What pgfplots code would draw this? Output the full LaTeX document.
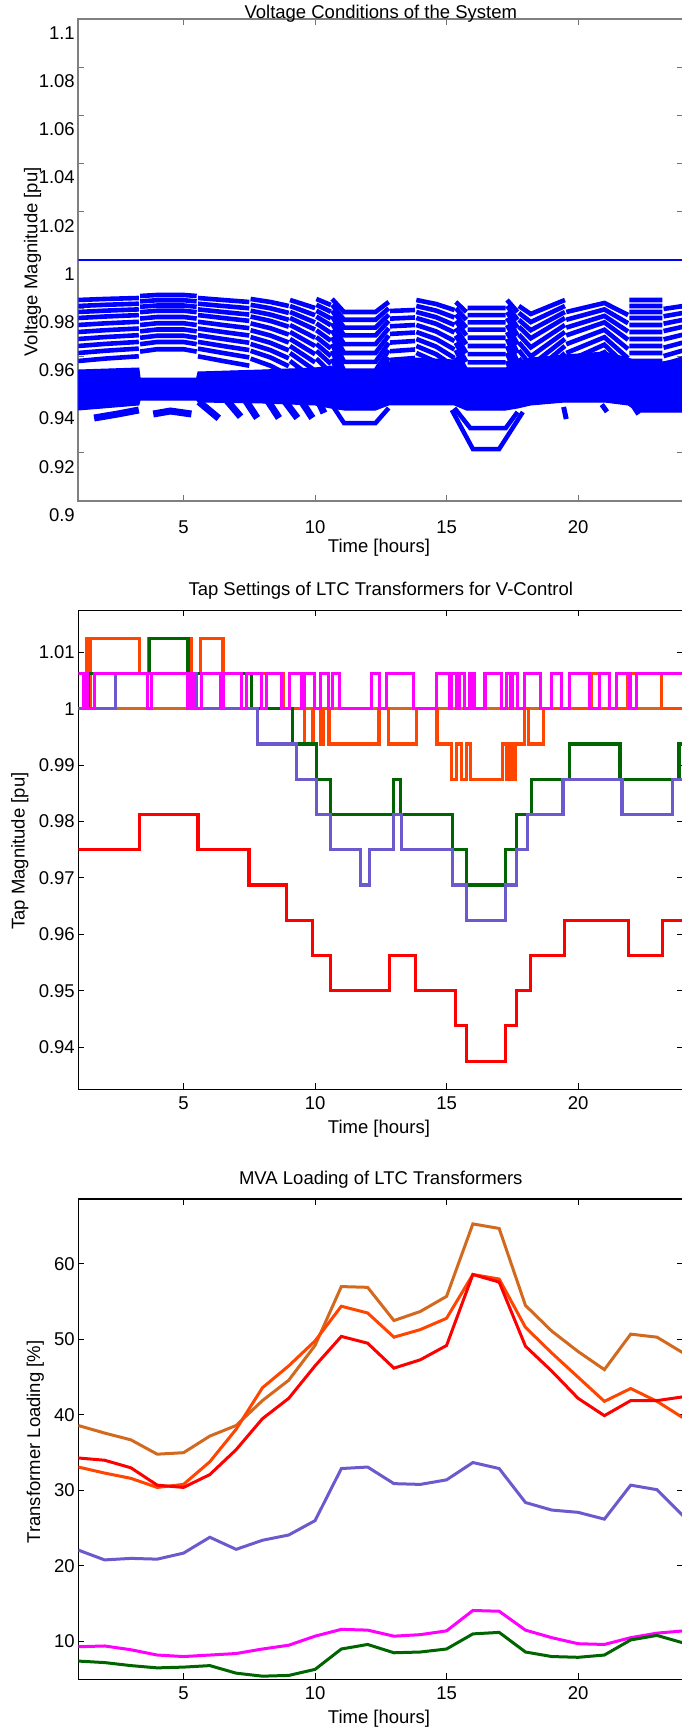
\documentclass[border=0pt]{standalone}
\usepackage{fontspec}
\setmainfont{Liberation Sans}
\usepackage{pgfplots}
\pgfplotsset{compat=1.18}
\usepackage{pgfplotstable}

\definecolor{mchoc}{RGB}{210,105,30}
\definecolor{morange}{RGB}{255,69,0}
\definecolor{mslate}{RGB}{106,90,205}
\definecolor{mgreen}{RGB}{0,100,0}
\definecolor{mblue}{RGB}{0,0,255}
\definecolor{mred}{RGB}{255,0,0}
\definecolor{mmag}{RGB}{255,0,255}

\pgfplotstableread{
t L1 L2 L3 L4 L5 L6 L7 L8 L9 L10
1 0.98340 0.98091 0.97842 0.97593 0.97303 0.97012 0.96722 0.96431 0.96141 0.95809
2 0.98382 0.98139 0.97896 0.97653 0.97369 0.97085 0.96801 0.96516 0.96232 0.95907
3.3 0.98423 0.98186 0.97950 0.97713 0.97436 0.97157 0.96880 0.96601 0.96324 0.96004
3.32 nan nan nan nan nan nan nan nan nan nan
3.35 0.98506 0.98282 0.98058 0.97834 0.97569 0.97302 0.97038 0.96771 0.96506 0.96199
4 0.98548 0.98330 0.98112 0.97894 0.97635 0.97375 0.97117 0.96857 0.96598 0.96297
5 0.98548 0.98330 0.98112 0.97894 0.97635 0.97375 0.97117 0.96857 0.96598 0.96297
5.5 0.98506 0.98282 0.98058 0.97834 0.97569 0.97302 0.97038 0.96771 0.96506 0.96199
5.52 nan nan nan nan nan nan nan nan nan nan
5.55 0.98423 0.98186 0.97950 0.97713 0.97436 0.97157 0.96880 0.96601 0.96324 0.96004
6.5 0.98340 0.98091 0.97842 0.97593 0.97303 0.97012 0.96722 0.96431 0.96141 0.95809
7.5 0.98257 0.97996 0.97734 0.97473 0.97170 0.96867 0.96564 0.96261 0.95958 0.95614
7.52 nan nan nan nan nan nan nan nan nan nan
7.55 0.98382 0.98139 0.97896 0.97653 0.97369 0.97085 0.96801 0.96516 0.96232 0.95907
8.3 0.98257 0.97996 0.97734 0.97473 0.97170 0.96867 0.96564 0.96261 0.95958 0.95614
9 0.98091 0.97805 0.97518 0.97232 0.96905 0.96576 0.96249 0.95920 0.95593 0.95224
9.02 nan nan nan nan nan nan nan nan nan nan
9.05 0.98340 0.98091 0.97842 0.97593 0.97303 0.97012 0.96722 0.96431 0.96141 0.95809
10 0.98008 0.97709 0.97410 0.97111 0.96772 0.96431 0.96091 0.95750 0.95411 0.95029
10.02 nan nan nan nan nan nan nan nan nan nan
10.05 0.98382 0.98139 0.97896 0.97653 0.97369 0.97085 0.96801 0.96516 0.96232 0.95907
10.6 0.98133 0.97853 0.97572 0.97292 0.96971 0.96649 0.96328 0.96006 0.95685 0.95322
10.62 nan nan nan nan nan nan nan nan nan nan
10.65 0.98382 0.98139 0.97896 0.97653 0.97369 0.97085 0.96801 0.96516 0.96232 0.95907
11.1 0.97842 0.97519 0.97194 0.96871 0.96506 0.96141 0.95775 0.95410 0.95045 0.94639
12.3 0.97842 0.97519 0.97194 0.96871 0.96506 0.96141 0.95775 0.95410 0.95045 0.94639
12.8 0.98257 0.97996 0.97734 0.97473 0.97170 0.96867 0.96564 0.96261 0.95958 0.95614
12.82 nan nan nan nan nan nan nan nan nan nan
12.85 0.97884 0.97566 0.97248 0.96931 0.96573 0.96213 0.95854 0.95495 0.95137 0.94737
13.8 0.97925 0.97614 0.97302 0.96991 0.96639 0.96286 0.95933 0.95580 0.95228 0.94834
13.82 nan nan nan nan nan nan nan nan nan nan
13.85 0.98340 0.98091 0.97842 0.97593 0.97303 0.97012 0.96722 0.96431 0.96141 0.95809
14.6 0.98174 0.97900 0.97626 0.97352 0.97037 0.96722 0.96406 0.96091 0.95776 0.95419
15.3 0.97925 0.97614 0.97302 0.96991 0.96639 0.96286 0.95933 0.95580 0.95228 0.94834
15.32 nan nan nan nan nan nan nan nan nan nan
15.35 0.98257 0.97996 0.97734 0.97473 0.97170 0.96867 0.96564 0.96261 0.95958 0.95614
15.75 0.97842 0.97519 0.97194 0.96871 0.96506 0.96141 0.95775 0.95410 0.95045 0.94639
15.77 nan nan nan nan nan nan nan nan nan nan
15.8 0.98008 0.97709 0.97410 0.97111 0.96772 0.96431 0.96091 0.95750 0.95411 0.95029
17.25 0.98008 0.97709 0.97410 0.97111 0.96772 0.96431 0.96091 0.95750 0.95411 0.95029
17.27 nan nan nan nan nan nan nan nan nan nan
17.3 0.98340 0.98091 0.97842 0.97593 0.97303 0.97012 0.96722 0.96431 0.96141 0.95809
17.7 0.97842 0.97519 0.97194 0.96871 0.96506 0.96141 0.95775 0.95410 0.95045 0.94639
17.72 nan nan nan nan nan nan nan nan nan nan
17.75 0.98091 0.97805 0.97518 0.97232 0.96905 0.96576 0.96249 0.95920 0.95593 0.95224
18.2 0.97759 0.97423 0.97086 0.96750 0.96373 0.95996 0.95617 0.95240 0.94863 0.94444
19.5 0.98340 0.98091 0.97842 0.97593 0.97303 0.97012 0.96722 0.96431 0.96141 0.95809
19.52 nan nan nan nan nan nan nan nan nan nan
19.55 0.97842 0.97519 0.97194 0.96871 0.96506 0.96141 0.95775 0.95410 0.95045 0.94639
21 0.98216 0.97948 0.97680 0.97412 0.97104 0.96794 0.96485 0.96176 0.95867 0.95517
21.9 0.97718 0.97376 0.97032 0.96690 0.96307 0.95923 0.95539 0.95155 0.94771 0.94347
21.92 nan nan nan nan nan nan nan nan nan nan
21.95 0.98340 0.98091 0.97842 0.97593 0.97303 0.97012 0.96722 0.96431 0.96141 0.95809
23.2 0.98340 0.98091 0.97842 0.97593 0.97303 0.97012 0.96722 0.96431 0.96141 0.95809
23.22 nan nan nan nan nan nan nan nan nan nan
23.25 0.97967 0.97662 0.97356 0.97051 0.96705 0.96359 0.96012 0.95665 0.95319 0.94932
24 0.98091 0.97805 0.97518 0.97232 0.96905 0.96576 0.96249 0.95920 0.95593 0.95224
}\voltlines

\pgfplotstableread{
h choc orng red slate mag grn
1 38.6 33.1 34.3 22.1 9.3 7.4
2 37.6 32.3 34.0 20.8 9.4 7.2
3 36.7 31.6 33.0 21.0 8.9 6.8
4 34.8 30.4 30.7 20.9 8.2 6.5
5 35.0 30.8 30.4 21.7 8.0 6.6
6 37.2 33.8 32.1 23.8 8.2 6.8
7 38.6 38.1 35.4 22.2 8.4 5.8
8 41.9 43.6 39.5 23.4 9.0 5.4
9 44.6 46.5 42.2 24.1 9.5 5.5
10 49.2 49.8 46.5 26.0 10.7 6.3
11 57.0 54.4 50.4 32.9 11.6 9.0
12 56.9 53.5 49.5 33.1 11.5 9.6
13 52.5 50.3 46.2 30.9 10.7 8.5
14 53.7 51.3 47.3 30.8 10.9 8.6
15 55.7 52.8 49.2 31.4 11.4 9.0
16 65.3 58.6 58.6 33.7 14.1 11.0
17 64.7 58.0 57.6 32.9 14.0 11.2
18 54.5 51.6 49.1 28.4 11.5 8.6
19 51.1 48.2 45.8 27.4 10.5 8.0
20 48.4 45.0 42.2 27.1 9.7 7.9
21 46.0 41.8 39.9 26.2 9.6 8.2
22 50.7 43.5 41.9 30.7 10.5 10.2
23 50.3 41.8 41.9 30.1 11.1 10.8
24 48.2 39.6 42.4 26.6 11.4 9.8
}\loading

\pgfplotsset{
  base/.style={
    scale only axis, width=605bp, xmin=1, xmax=24,
    xtick={5,10,15,20}, xticklabels={5,10,15,20},
    tick align=inside, major tick length=6bp,
    tick label style={font=\fontsize{18.5bp}{22bp}\selectfont, text=black},
    every axis title/.style={font=\fontsize{18.5bp}{22bp}\selectfont, anchor=center},
    every axis x label/.style={font=\fontsize{18.5bp}{22bp}\selectfont, anchor=center},
    every axis y label/.style={font=\fontsize{18.5bp}{22bp}\selectfont, anchor=center, rotate=90},
    axis line style={line width=1.3bp},
    every tick/.style={line width=1bp},
    unbounded coords=jump,
    clip=true,
  }
}

\begin{document}
\begin{tikzpicture}
\useasboundingbox (0,0) rectangle (682bp,1731bp);

% ---------------- Plot 1 ----------------
\begin{axis}[base, at={(78.3bp,1230bp)}, anchor=south west, height=482bp,
  ymin=0.9, ymax=1.1,
  ytick={0.9,0.92,0.94,0.96,0.98,1.0,1.02,1.04,1.06,1.08,1.1},
  yticklabels={0.9,0.92,0.94,0.96,0.98,1,1.02,1.04,1.06,1.08,1.1},
  yticklabel style={yshift=-14bp},
  xticklabel style={yshift=-16bp},
  axis line style={line width=1.6bp, draw=black!50},
  every tick/.style={line width=1bp, draw=black!55},
  title={Voltage Conditions of the System},
  title style={at={(axis description cs:0.5,1)}, yshift=5bp},
  xlabel={Time [hours]},
  xlabel style={at={(axis description cs:0.497,-0.0975)}},
  ylabel={Voltage Magnitude [pu]},
  ylabel style={at={(axis description cs:-0.0755,0.496)}},
]
\addplot[mblue, line width=2.5bp] coordinates {(1,1.0) (24,1.0)};
% dense lower band
\addplot[fill=mblue, draw=mblue, line width=1bp] coordinates {
(1,0.95435) (3.3,0.95518) (3.35,0.95103) (5.5,0.95103) (5.55,0.95352) (8,0.95435)
(10,0.95518) (10.6,0.95601) (11.1,0.95352) (12.3,0.95352) (12.8,0.95767) (13.8,0.95933)
(15.3,0.95850) (15.75,0.95518) (17.25,0.95518) (17.7,0.95767) (18.2,0.95933) (19.5,0.96058)
(21,0.96182) (21.9,0.95933) (22.3,0.95767) (23.2,0.95767) (24,0.95933)
(24,0.93692) (22.3,0.93692) (21.9,0.93983) (21,0.94107) (19.5,0.94107) (18.2,0.93983)
(17.7,0.93858) (17.25,0.93775) (15.75,0.93775) (15.3,0.93983) (12.8,0.93983) (12.3,0.93775)
(11.1,0.93775) (10.6,0.93858) (10,0.93983) (8,0.94066) (5.55,0.94107) (5.5,0.94190)
(3.35,0.94190) (3.3,0.93983) (1,0.93775)} -- cycle;
% upper individual lines
\addplot[mblue, line width=4.6bp] table[x=t, y=L1] {\voltlines};
\addplot[mblue, line width=4.6bp] table[x=t, y=L2] {\voltlines};
\addplot[mblue, line width=4.6bp] table[x=t, y=L3] {\voltlines};
\addplot[mblue, line width=4.6bp] table[x=t, y=L4] {\voltlines};
\addplot[mblue, line width=4.6bp] table[x=t, y=L5] {\voltlines};
\addplot[mblue, line width=4.6bp] table[x=t, y=L6] {\voltlines};
\addplot[mblue, line width=4.6bp] table[x=t, y=L7] {\voltlines};
\addplot[mblue, line width=4.6bp] table[x=t, y=L8] {\voltlines};
\addplot[mblue, line width=4.6bp] table[x=t, y=L9] {\voltlines};
\addplot[mblue, line width=4.6bp] table[x=t, y=L10] {\voltlines};
% lower separate strokes
\addplot[mblue, line width=7bp] coordinates {(1.6,0.93443) (2.5,0.93609) (3.3,0.93775)};
\addplot[mblue, line width=7bp] coordinates {(3.85,0.93609) (4.5,0.93733) (5.3,0.93609)};
\addplot[mblue, line width=7bp] coordinates {
(5.58,0.94120) (6.34,0.93431) (6.4,nan)
(6.47,0.94398) (7.17,0.93497) (7.2,nan)
(7.3,0.94273) (7.8,0.93443) (7.9,nan)
(8.06,0.94398) (8.63,0.93443) (8.7,nan)
(8.76,0.94273) (9.33,0.93443) (9.36,nan)
(9.4,0.94273) (9.9,0.93443) (9.95,nan)
(10.02,0.944) (10.34,0.9365)};
\addplot[mblue, line width=4.5bp] coordinates {(10.65,0.93983) (11.1,0.93235) (12.3,0.93235) (12.8,0.93858)};
\addplot[mblue, line width=4.5bp] coordinates {(15.2,0.93775) (16,0.92157) (17,0.92157) (17.9,0.93692)};
\addplot[mblue, line width=4.5bp] coordinates {(15.3,0.93858) (15.9,0.93028) (17.25,0.93028) (17.7,0.93692)};
\addplot[mblue, line width=5bp] coordinates {
(19.45,0.9390) (19.55,0.9340) (19.6,nan)
(20.9,0.9400) (21.1,0.9370) (21.2,nan)
(22.0,0.9410) (22.3,0.9360)};
\end{axis}

% ---------------- Plot 2 ----------------
\begin{axis}[base, at={(78.3bp,641.7bp)}, anchor=south west, height=479.1bp,
  ymin=0.9325, ymax=1.0175,
  ytick={0.94,0.95,0.96,0.97,0.98,0.99,1.0,1.01},
  yticklabels={0.94,0.95,0.96,0.97,0.98,0.99,1,1.01},
  xticklabel style={yshift=-4bp},
  title={Tap Settings of LTC Transformers for V-Control},
  title style={at={(axis description cs:0.5,1)}, yshift=19bp},
  xlabel={Time [hours]},
  xlabel style={at={(axis description cs:0.497,-0.0829)}},
  ylabel={Tap Magnitude [pu]},
  ylabel style={at={(axis description cs:-0.0965,0.497)}},
]
\addplot[const plot, mchoc, line width=3.2bp] coordinates {(1,1.0) (24,1.0)};
\addplot[const plot, morange, line width=3.2bp] coordinates {
(1,1.0) (1.3,1.0125) (1.38,1.0) (1.45,1.0125) (3.33,1.00625) (3.68,1.0125) (5.29,1.00625)
(5.64,1.0125) (6.5,1.00625) (8.8,1.0) (9.61,0.99375) (9.92,1.0) (10.2,0.99375) (10.31,1.0)
(10.53,0.99375) (12.43,1.0) (12.8,0.99375) (13.85,1.0) (14.64,0.99375) (15.2,0.9875)
(15.37,0.99375) (15.56,0.9875) (15.75,0.99375) (15.92,0.9875) (17.12,0.99375) (17.27,0.9875)
(17.37,0.99375) (17.5,0.9875) (17.6,0.99375) (17.97,1.0) (18.1,0.99375) (18.67,1.0)
(20.5,1.00625) (20.8,1.0) (21.9,1.00625) (23.17,1.0) (24,1.0)};
\addplot[const plot, mred, line width=3.2bp] coordinates {
(1,0.975) (3.33,0.98125) (5.55,0.975) (7.49,0.96875) (8.93,0.9625) (9.9,0.95625) (10.58,0.95)
(12.84,0.95625) (13.81,0.95) (15.35,0.94375) (15.75,0.9375) (17.24,0.94375) (17.66,0.95)
(18.19,0.95625) (19.49,0.9625) (21.93,0.95625) (23.2,0.9625) (24,0.9625)};
\addplot[const plot, mgreen, line width=3.2bp] coordinates {
(1,1.0) (1.4,1.00625) (3.7,1.0125) (5.17,1.00625) (7.58,1.0) (9.13,0.99375) (10.05,0.9875)
(10.59,0.98125) (12.99,0.9875) (13.24,0.98125) (15.22,0.975) (15.75,0.96875) (17.24,0.975)
(17.66,0.98125) (18.23,0.9875) (19.66,0.99375) (21.59,0.9875) (23.84,0.99375) (24,0.99375)};
\addplot[const plot, mslate, line width=3.2bp] coordinates {
(1,1.0) (2.4,1.00625) (5.48,1.0) (7.8,0.99375) (9.29,0.9875) (10.05,0.98125) (10.58,0.975)
(11.72,0.96875) (12.08,0.975) (12.99,0.98125) (13.28,0.975) (15.22,0.96875) (15.75,0.9625)
(17.24,0.96875) (17.66,0.975) (18.07,0.98125) (19.43,0.9875) (21.67,0.98125) (23.59,0.9875)
(24,0.9875)};
\addplot[const plot, mmag, line width=3.2bp] coordinates {
(1,1.00625) (1.2,1.0) (1.3,1.00625) (1.36,1.0) (1.62,1.00625) (3.64,1.0) (3.77,1.00625)
(5.17,1.0) (5.29,1.00625) (5.42,1.0) (5.67,1.00625) (6.42,1.0) (6.5,1.00625) (7.2,1.0)
(7.39,1.00625) (7.96,1.0) (8.15,1.00625) (8.72,1.0) (9.02,1.00625) (9.49,1.0) (9.61,1.00625)
(9.99,1.0) (10.21,1.00625) (10.5,1.0) (10.66,1.00625) (10.94,1.0) (12.15,1.00625) (12.44,1.0)
(12.72,1.00625) (13.73,1.0) (14.62,1.00625) (15.1,1.0) (15.19,1.00625) (15.4,1.0)
(15.5,1.00625) (15.67,1.0) (15.89,1.00625) (16.04,1.0) (16.46,1.00625) (17.09,1.0)
(17.28,1.00625) (17.45,1.0) (17.5,1.00625) (17.71,1.0) (17.97,1.00625) (18.57,1.0)
(18.99,1.00625) (19.37,1.0) (19.68,1.00625) (20.44,1.0) (20.82,1.00625) (21.2,1.0)
(21.46,1.00625) (21.97,1.0) (22.22,1.00625) (24,1.00625)};
\end{axis}

% ---------------- Plot 3 ----------------
\begin{axis}[base, at={(78.3bp,51.8bp)}, anchor=south west, height=480.2bp,
  ymin=5, ymax=68.6,
  ytick={10,20,30,40,50,60},
  yticklabels={10,20,30,40,50,60},
  xticklabel style={yshift=-4bp},
  title={MVA Loading of LTC Transformers},
  title style={at={(axis description cs:0.5,1)}, yshift=19bp},
  xlabel={Time [hours]},
  xlabel style={at={(axis description cs:0.497,-0.0833)}},
  ylabel={Transformer Loading [\%]},
  ylabel style={at={(axis description cs:-0.0711,0.494)}},
]
\addplot[mchoc, line width=3bp] table[x=h, y=choc] {\loading};
\addplot[morange, line width=3bp] table[x=h, y=orng] {\loading};
\addplot[mred, line width=3bp] table[x=h, y=red] {\loading};
\addplot[mslate, line width=3bp] table[x=h, y=slate] {\loading};
\addplot[mmag, line width=3bp] table[x=h, y=mag] {\loading};
\addplot[mgreen, line width=3bp] table[x=h, y=grn] {\loading};
\end{axis}
\end{tikzpicture}
\end{document}
